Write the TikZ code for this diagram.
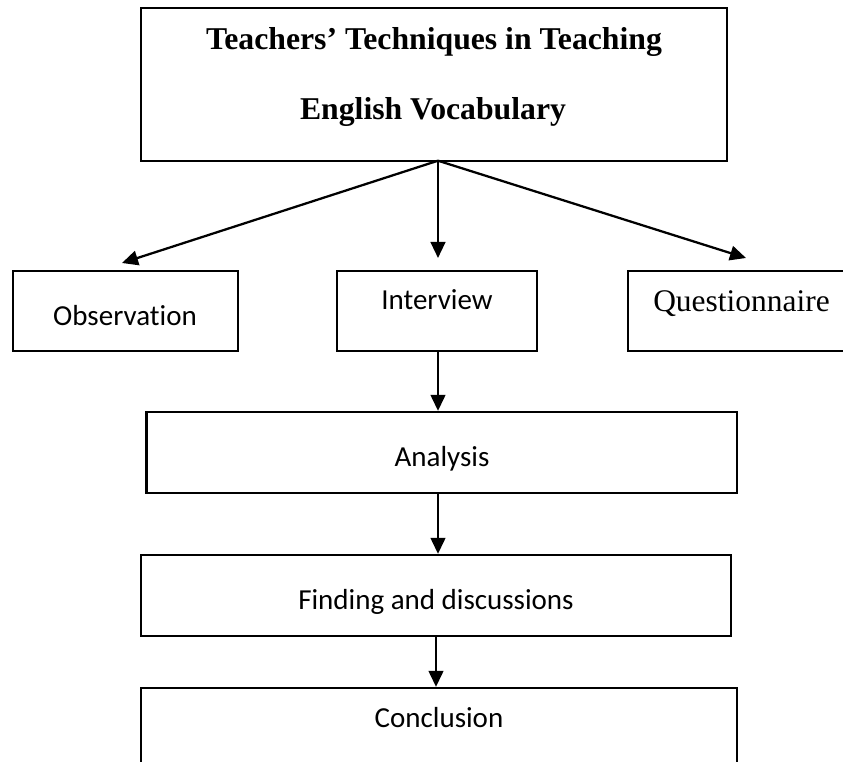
\documentclass[tikz,border=0pt]{standalone}
\usepackage{fontspec}
\newfontfamily\calib[Ligatures={NoCommon}]{Carlito}
\newfontfamily\tnr{Liberation Serif}
\usetikzlibrary{arrows.meta,fit}
\begin{document}
\begin{tikzpicture}[x=0.75pt,y=-0.75pt,
  box/.style={draw=black,line width=1.7pt,inner sep=0pt,rectangle},
  lbl/.style={anchor=base,inner sep=0pt,font=\calib\fontsize{21.75pt}{26pt}\selectfont},
  ttl/.style={anchor=base,inner sep=0pt,font=\tnr\bfseries\fontsize{23.8pt}{28pt}\selectfont},
  arr/.style={line width=1.7pt,-{Triangle[length=12pt,width=11pt]}}]
\useasboundingbox (0,0) rectangle (843,762);
\clip (0,0) rectangle (843,762);
% boxes
\node[box,fit={(141,7.7) (727,160.7)}] (top) {};
\node[box,fit={(12.7,271) (237.7,351)}] (obs) {};
\node[box,fit={(337,271) (537,351)}] (int) {};
\node[box,fit={(628,271) (870,351)}] (que) {};
\node[box,fit={(146.5,412) (737,493)}] (ana) {};
\node[box,fit={(141,555) (731,636)}] (fin) {};
\node[box,fit={(141,688) (737,790)}] (con) {};
% texts
\node[ttl] (t1) at (434,50) {Teachers’ Techniques in Teaching};
\node[ttl] (t2) at (433,120) {English Vocabulary};
\node[lbl] (tobs) at (125,326) {Observation};
\node[lbl] (tint) at (437,310) {Interview};
\node[anchor=base west,inner sep=0pt,font=\tnr\fontsize{23.6pt}{28pt}\selectfont] (tque) at (653,312) {Questionnaire};
\node[lbl] (tana) at (442,467) {Analysis};
\node[lbl] (tfin) at (436,610) {Finding and discussions};
\node[lbl] (tcon) at (439,727) {Conclusion};
% connectors
\coordinate (split) at (438,160.7);
\coordinate (obsTip) at (122,263);
\coordinate (intTip) at (438,258);
\coordinate (queTip) at (746,258);
\draw[arr] (split) -- (obsTip);
\draw[arr] (split) -- (intTip);
\draw[arr] (split) -- (queTip);
\draw[arr] (int.south -| split) -- (ana.north -| split);
\draw[arr] (ana.south -| split) -- (fin.north -| split);
\draw[arr] (fin.south) -- (fin.south |- con.north);
\end{tikzpicture}
\end{document}
